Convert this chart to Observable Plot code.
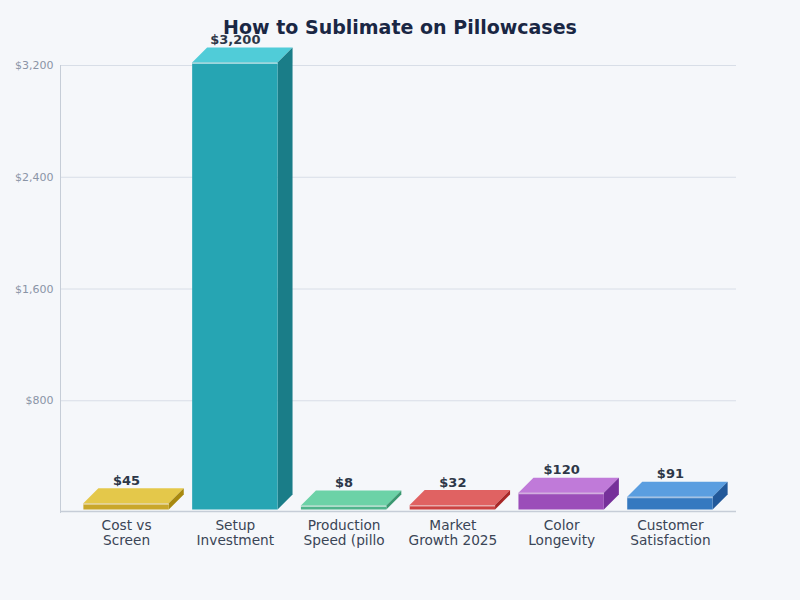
<!DOCTYPE html>
<html>
<head>
<meta charset="utf-8">
<script src="https://cdn.jsdelivr.net/npm/d3@7"></script>
<script src="https://cdn.jsdelivr.net/npm/@observablehq/plot@0.6"></script>
<style>
  html, body { margin: 0; padding: 0; background: #f5f7fa; }
  body { width: 800px; height: 600px; overflow: hidden; font-family: "DejaVu Sans", sans-serif; }
  #title { height: 45px; box-sizing: border-box; padding-top: 16px; text-align: center;
    font: bold 19px/22px "DejaVu Sans", sans-serif; color: #1a2744; position: relative; z-index: 0; }
  svg { display: block; overflow: visible; }
</style>
</head>
<body>
<div id="title">How to Sublimate on Pillowcases</div>
<div id="chart"></div>
<script>
const categories = ["Cost vs Screen", "Setup Investment", "Production Speed (pillo", "Market Growth 2025", "Color Longevity", "Customer Satisfaction"];
const tickLabels = ["Cost vs\nScreen", "Setup\nInvestment", "Production\nSpeed (pillo", "Market\nGrowth 2025", "Color\nLongevity", "Customer\nSatisfaction"];
const values = [45, 3200, 8, 32, 120, 91];
const valueLabels = ["$45", "$3,200", "$8", "$32", "$120", "$91"];
const frontColors = ["#c9a72b", "#26a5b3", "#4fb48c", "#cc4242", "#9b4db9", "#3579c0"];
const topColors = ["#e4c84a", "#50ccd8", "#6cd2a7", "#e06262", "#c07ad9", "#5a9ee0"];
const sideColors = ["#a8890f", "#1a7d88", "#3a9870", "#a82727", "#76309a", "#22599a"];
const yTicks = [800, 1600, 2400, 3200];

const data = categories.map((c, i) => ({category: c, value: values[i], label: valueLabels[i], tick: tickLabels[i], front: frontColors[i], top: topColors[i], side: sideColors[i]}));

const DEPTH = 15, LIFT = 2.5, MINH = 4;
const H = 555, MT = 20, MB = 88;
const minValue = MINH * 3200 / (H - MT - MB);

function bars3d(index, scales, vals, dimensions) {
  const x = scales.x, y = scales.y;
  const bw = typeof x.bandwidth === "function" ? x.bandwidth() : x.bandwidth;
  const g = d3.create("svg:g");
  for (const d of data) {
    const x0 = x(d.category), x1 = x0 + bw;
    const yb = y(0) - LIFT;
    const yt = Math.min(y(d.value) - LIFT, yb - MINH);
    g.append("polygon")
      .attr("points", [[x0, yt], [x1, yt], [x1 + DEPTH, yt - DEPTH], [x0 + DEPTH, yt - DEPTH]].join(" "))
      .attr("fill", d.top);
    g.append("polygon")
      .attr("points", [[x1, yt], [x1 + DEPTH, yt - DEPTH], [x1 + DEPTH, yb - DEPTH], [x1, yb]].join(" "))
      .attr("fill", d.side);
    g.append("rect")
      .attr("x", x0).attr("y", yt).attr("width", bw).attr("height", yb - yt)
      .attr("fill", d.front);
    g.append("line")
      .attr("x1", x0).attr("x2", x1).attr("y1", yt + 0.75).attr("y2", yt + 0.75)
      .attr("stroke", "rgba(255,255,255,0.55)").attr("stroke-width", 1.5);
  }
  return g.node();
}

const plot = Plot.plot({
  width: 800,
  height: H,
  marginLeft: 60,
  marginRight: 64,
  marginTop: MT,
  marginBottom: MB,
  style: {background: "transparent", fontFamily: "DejaVu Sans, sans-serif", overflow: "visible"},
  x: {type: "band", domain: categories, padding: 0.215, round: false},
  y: {domain: [0, 3200]},
  marks: [
    Plot.ruleY(yTicks, {stroke: "#d8dee7", strokeWidth: 1}),
    Plot.frame({anchor: "left", stroke: "#c6cdd7", strokeWidth: 1}),
    Plot.ruleY([0], {stroke: "#c6cdd7", strokeWidth: 1.5, dy: -1}),
    Plot.axisY({ticks: yTicks, tickFormat: d => "$" + d3.format(",")(d), tickSize: 0, tickPadding: 7, fontSize: 11, fill: "#8a94a6", label: null}),
    Plot.axisX({tickSize: 0, tickPadding: 7, tickFormat: d => tickLabels[categories.indexOf(d)], fontSize: 13.7, fill: "#3a4556", lineHeight: 1.1, label: null}),
    bars3d,
    Plot.text(data, {x: "category", y: d => Math.max(d.value, minValue), text: "label", dy: -(LIFT + DEPTH + 4), lineAnchor: "bottom", fontSize: 13, fontWeight: "bold", fill: "#2d3748"})
  ]
});
document.getElementById("chart").appendChild(plot);
</script>
</body>
</html>
